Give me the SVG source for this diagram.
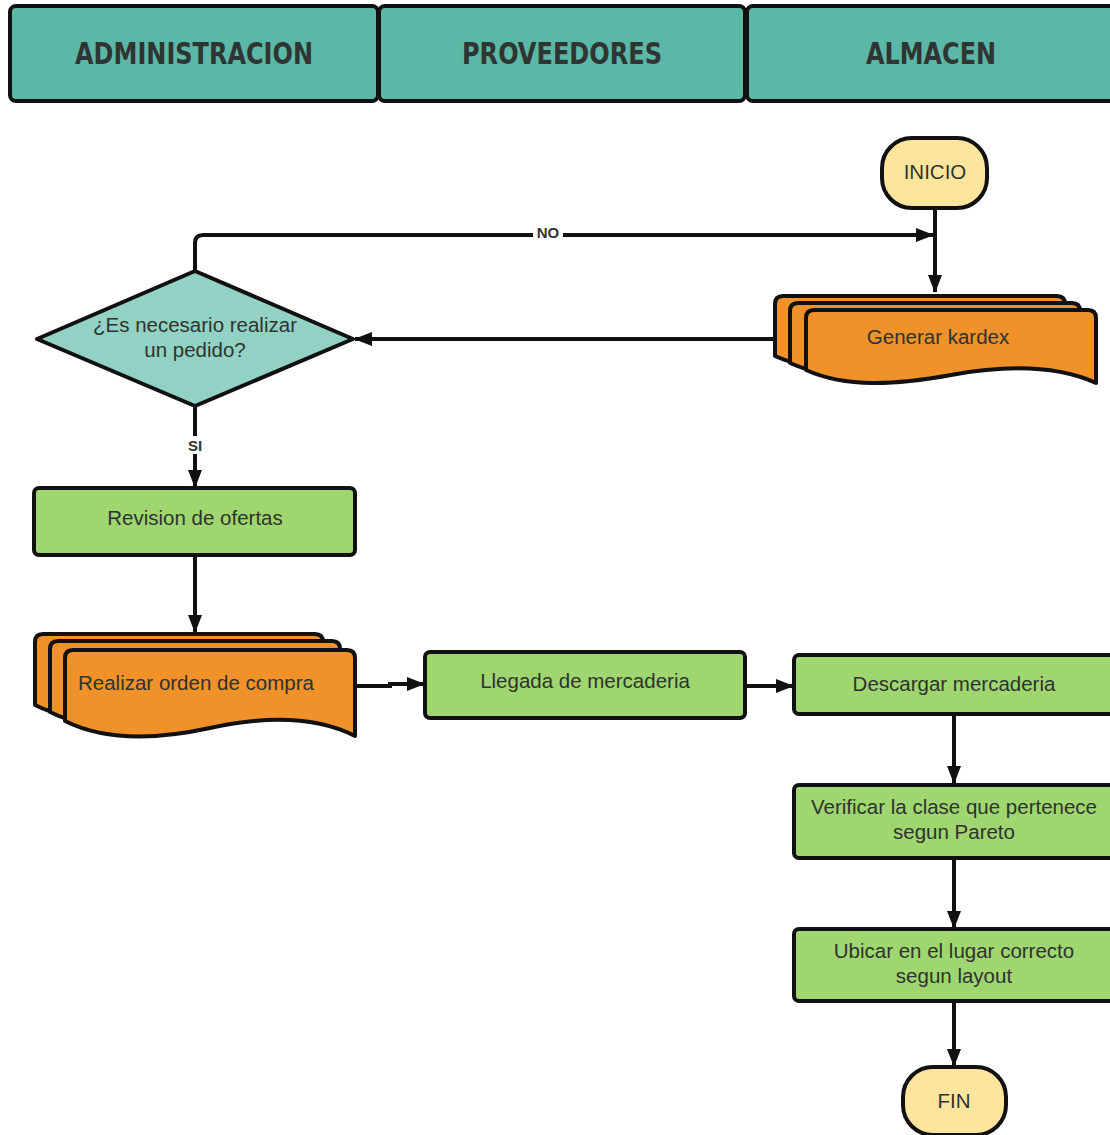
<svg xmlns="http://www.w3.org/2000/svg" width="1110" height="1135" viewBox="0 0 1110 1135">
<defs>
<style>
.hdr{fill:#5bb8a6;stroke:#111;stroke-width:4}
.htxt{font-family:"DejaVu Sans Condensed","DejaVu Sans",sans-serif;font-weight:bold;font-size:30px;fill:#2f3533;text-anchor:middle}
.proc{fill:#9fd66f;stroke:#111;stroke-width:4}
.doc{fill:#f0912a;stroke:#111;stroke-width:4;stroke-linejoin:round}
.term{fill:#fee59e;stroke:#111;stroke-width:4}
.dec{fill:#92d2c4;stroke:#111;stroke-width:4;stroke-linejoin:round}
.t{font-family:"Liberation Sans",Arial,sans-serif;font-size:20.5px;fill:#2e332e;text-anchor:middle}
.lbl{font-family:"Liberation Sans",Arial,sans-serif;font-size:15px;font-weight:bold;fill:#333;text-anchor:middle}
.c{fill:none;stroke:#111;stroke-width:4}
</style>
<marker id="ah" viewBox="0 0 18 14" refX="17" refY="7" markerWidth="4.5" markerHeight="3.5" markerUnits="strokeWidth" orient="auto">
<path d="M0,0 L18,7 L0,14 z" fill="#111"/>
</marker>
<path id="kd" d="M0,8 Q0,0 8,0 H282 Q290,0 290,8 V73 C250,55 200,55 145,65 S40,78 0,60 Z"/>
</defs>

<g id="header-administracion">
<rect class="hdr" x="10" y="6" width="368" height="95" rx="6"/>
<text class="htxt" x="194" y="64" textLength="238" lengthAdjust="spacingAndGlyphs">ADMINISTRACION</text>
</g>
<g id="header-proveedores">
<rect class="hdr" x="379" y="6" width="366" height="95" rx="6"/>
<text class="htxt" x="562" y="64" textLength="200" lengthAdjust="spacingAndGlyphs">PROVEEDORES</text>
</g>
<g id="header-almacen">
<rect class="hdr" x="747" y="6" width="370" height="95" rx="6"/>
<text class="htxt" x="931" y="64" textLength="130" lengthAdjust="spacingAndGlyphs">ALMACEN</text>
</g>

<g id="connectors">
<path class="c" d="M935,208 V292" marker-end="url(#ah)"/>
<path class="c" d="M195,271 V243 Q195,235 203,235 H933" marker-end="url(#ah)"/>
<path class="c" d="M775,339 H355" marker-end="url(#ah)"/>
<path class="c" d="M195,406 V487" marker-end="url(#ah)"/>
<path class="c" d="M195,555 V632" marker-end="url(#ah)"/>
<path class="c" d="M357,686 H390 V684 H424" marker-end="url(#ah)"/>
<path class="c" d="M745,686 H793" marker-end="url(#ah)"/>
<path class="c" d="M954,714 V783" marker-end="url(#ah)"/>
<path class="c" d="M954,858 V928" marker-end="url(#ah)"/>
<path class="c" d="M954,1001 V1066" marker-end="url(#ah)"/>
<rect x="533" y="226" width="30" height="16" fill="#fff"/>
<text class="lbl" x="548" y="238">NO</text>
<rect x="184" y="436" width="22" height="18" fill="#fff"/>
<text class="lbl" x="195" y="451">SI</text>
</g>

<g id="inicio">
<rect class="term" x="882" y="138" width="105" height="70" rx="30"/>
<text class="t" x="935" y="179">INICIO</text>
</g>

<g id="generar-kardex">
<use href="#kd" class="doc" transform="translate(775,296)"/>
<use href="#kd" class="doc" transform="translate(790,303)"/>
<use href="#kd" class="doc" transform="translate(806,310)"/>
<text class="t" x="938" y="344">Generar kardex</text>
</g>

<g id="decision">
<path class="dec" d="M195,271 L353,339 L195,406 L37,339 Z"/>
<text class="t" x="195" y="332">¿Es necesario realizar</text>
<text class="t" x="195" y="357">un pedido?</text>
</g>

<g id="revision-ofertas">
<rect class="proc" x="34" y="488" width="321" height="67" rx="5"/>
<text class="t" x="195" y="525">Revision de ofertas</text>
</g>

<g id="orden-compra">
<path class="doc" d="M35,642 Q35,634 43,634 H315 Q323,634 323,642 V720 C285,700 235,700 180,712 S75,725 35,705 Z"/>
<path class="doc" d="M50,649 Q50,641 58,641 H332 Q340,641 340,649 V727 C300,707 250,707 195,719 S90,732 50,712 Z"/>
<path class="doc" d="M65,658 Q65,650 73,650 H347 Q355,650 355,658 V736 C315,716 265,716 210,728 S105,741 65,721 Z"/>
<text class="t" x="78" y="690" style="text-anchor:start">Realizar orden de compra</text>
</g>

<g id="llegada-mercaderia">
<rect class="proc" x="425" y="652" width="320" height="66" rx="5"/>
<text class="t" x="585" y="688">Llegada de mercaderia</text>
</g>

<g id="descargar-mercaderia">
<rect class="proc" x="794" y="655" width="330" height="59" rx="5"/>
<text class="t" x="954" y="691">Descargar mercaderia</text>
</g>

<g id="verificar-clase">
<rect class="proc" x="794" y="785" width="330" height="73" rx="5"/>
<text class="t" x="954" y="814">Verificar la clase que pertenece</text>
<text class="t" x="954" y="839">segun Pareto</text>
</g>

<g id="ubicar-lugar">
<rect class="proc" x="794" y="929" width="330" height="72" rx="5"/>
<text class="t" x="954" y="958">Ubicar en el lugar correcto</text>
<text class="t" x="954" y="983">segun layout</text>
</g>

<g id="fin">
<rect class="term" x="903" y="1067" width="103" height="68" rx="30"/>
<text class="t" x="954" y="1108">FIN</text>
</g>
</svg>
